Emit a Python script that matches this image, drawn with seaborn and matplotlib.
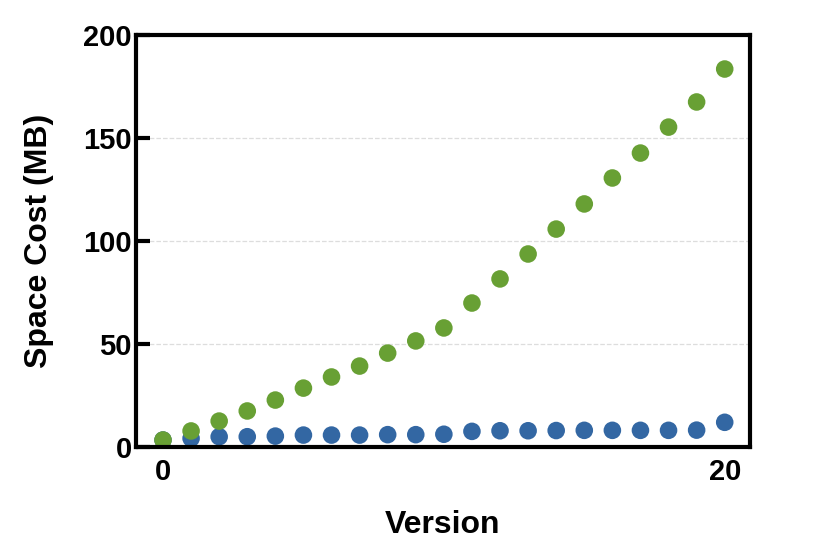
import matplotlib
matplotlib.use("Agg")
import matplotlib.pyplot as plt
import seaborn as sns
import pandas as pd

# values
versions = list(range(21))
blue_cost = [3.4, 4.2, 5.0, 5.0, 5.3, 5.8, 5.8, 5.8, 6.0, 6.0, 6.2,
             7.6, 7.9, 7.9, 8.0, 8.1, 8.1, 8.1, 8.1, 8.2, 12.0]
green_cost = [3.4, 7.8, 12.6, 17.5, 22.8, 28.6, 34.0, 39.3, 45.6, 51.5, 57.8,
              69.9, 81.6, 93.7, 105.8, 118.0, 130.6, 142.7, 155.3, 167.5, 183.5]
series_names = ["blue", "green"]
palette = {"blue": "#3367A3", "green": "#68A034"}

df = pd.DataFrame({
    "Version": versions * 2,
    "Space Cost (MB)": blue_cost + green_cost,
    "series": [series_names[0]] * len(versions) + [series_names[1]] * len(versions),
})

sns.set_style("ticks")
plt.rcParams["font.family"] = ["Liberation Sans", "DejaVu Sans"]
plt.rcParams["font.weight"] = "bold"
plt.rcParams["text.color"] = "black"
plt.rcParams["axes.labelcolor"] = "black"
plt.rcParams["xtick.color"] = "black"
plt.rcParams["ytick.color"] = "black"

fig = plt.figure(figsize=(8.3, 5.56), dpi=100)
ax = fig.add_axes([0.1639, 0.196, 0.7397, 0.741])

sns.scatterplot(data=df, x="Version", y="Space Cost (MB)", hue="series",
                palette=palette, s=160, edgecolor="none", legend=False,
                ax=ax, zorder=3)

ax.set_xlim(-0.96, 20.9)
ax.set_ylim(0, 200)
ax.set_xticks([0, 20])
ax.set_yticks([0, 50, 100, 150, 200])
ax.yaxis.grid(True, linestyle="--", color="#dddddd", linewidth=0.9)
ax.xaxis.grid(False)

for sp in ax.spines.values():
    sp.set_visible(True)
    sp.set_color("black")
    sp.set_linewidth(3)
    sp.set_zorder(4)

ax.tick_params(axis="y", which="major", length=10, width=3, colors="black",
               labelsize=21, pad=3, direction="in", left=True, right=False)
ax.tick_params(axis="x", length=0, colors="black", labelsize=21, pad=8)
for lab in ax.get_xticklabels() + ax.get_yticklabels():
    lab.set_fontweight("bold")

ax.set_xlabel("Version", fontsize=23, fontweight="bold", color="black", labelpad=17)
ax.set_ylabel("Space Cost (MB)", fontsize=23, fontweight="bold", color="black", labelpad=21)

fig.savefig("out.png", dpi=100)
